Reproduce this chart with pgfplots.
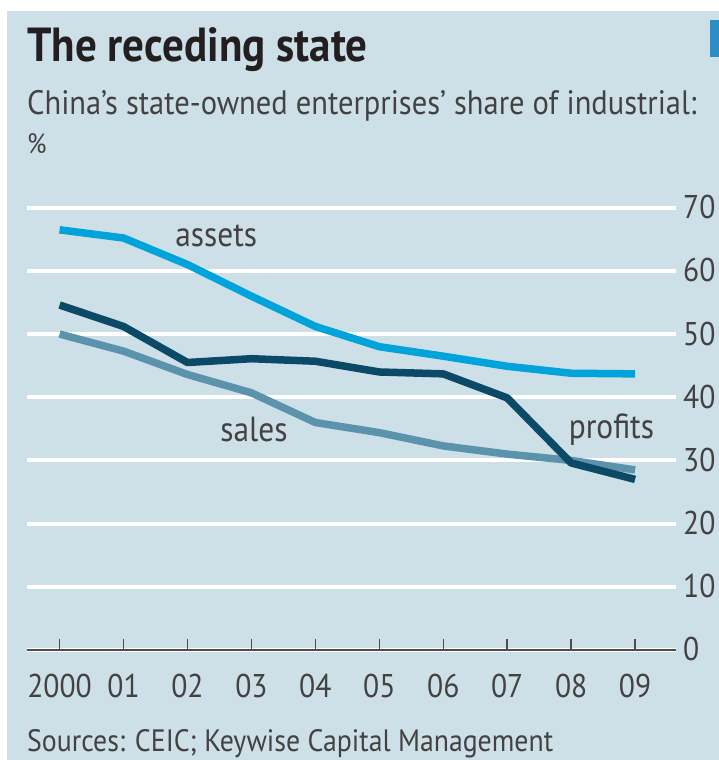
\documentclass[border=0pt]{standalone}
\usepackage{fontspec}
\setmainfont{PT Sans}[FakeStretch=0.9]
\usepackage{pgfplots}
\pgfplotsset{compat=1.18}
\definecolor{bg}{HTML}{CDDFE7}
\definecolor{assets}{HTML}{00A3DA}
\definecolor{profits}{HTML}{0A4A66}
\definecolor{sales}{HTML}{5B93AD}
\definecolor{txt}{HTML}{231F20}
\definecolor{axgray}{HTML}{4D4D4D}
\definecolor{accent}{HTML}{2B8FC5}
\begin{document}
\begin{tikzpicture}[x=1bp,y=1bp]
\useasboundingbox (0,0) rectangle (719,760);
\fill[bg] (7,0) rectangle (719,749);
\fill[accent] (710,703) rectangle (719,740);
\node[anchor=base west,inner sep=0pt,text=txt] at (27,698) {\fontsize{48}{48}\selectfont\bfseries The receding state};
\node[anchor=base west,inner sep=0pt,text=txt!85] at (27,645) {\fontsize{34}{34}\selectfont China’s state-owned enterprises’ share of industrial:};
\node[anchor=base west,inner sep=0pt,text=txt!85] at (27,606) {\fontsize{28}{28}\selectfont \%};
\node[anchor=base west,inner sep=0pt,text=txt!85] at (27,8) {\fontsize{31}{31}\selectfont Sources: CEIC; Keywise Capital Management};
\begin{axis}[
  at={(26.6bp,110bp)}, anchor=south west,
  scale only axis, width=649.4bp, height=442.3bp,
  xmin=-0.516, xmax=9.64, ymin=0, ymax=70,
  clip=false,
  axis line style={draw=none},
  xtick={0,...,9},
  xticklabels={2000,01,02,03,04,05,06,07,08,09},
  xtick pos=bottom,
  tick align=inside,
  major tick length=11bp,
  xtick style={draw=axgray, line width=1.5bp},
  ytick={0,10,...,70},
  ytick style={draw=none},
  yticklabel pos=right,
  ymajorgrids,
  grid style={white, line width=4bp},
  /pgf/number format/assume math mode=true,
  ticklabel style={font=\fontsize{33}{33}\selectfont, text=txt!85},
  xticklabel style={anchor=base, inner sep=0pt, yshift=-47bp},
  yticklabel style={anchor=base west, inner sep=0pt, xshift=7bp, yshift=-11bp},
]
\draw[axgray, line width=2bp] (rel axis cs:0,0) -- (rel axis cs:1,0);
\addplot[sales, line width=7.5bp, line join=round] coordinates {
(0,50.0) (1,47.3) (2,43.6) (3,40.7) (4,36.0) (5,34.4) (6,32.3) (7,31.0) (8,30.0) (9,28.5)};
\addplot[assets, line width=7.5bp, line join=round] coordinates {
(0,66.5) (1,65.2) (2,61.0) (3,56.0) (4,51.2) (5,48.0) (6,46.5) (7,44.9) (8,43.8) (9,43.7)};
\addplot[profits, line width=7.5bp, line join=round] coordinates {
(0,54.6) (1,51.2) (2,45.5) (3,46.1) (4,45.7) (5,44.0) (6,43.7) (7,39.9) (8,29.6) (9,27.0)};
\node[anchor=base, inner sep=0pt, text=txt!85, font=\fontsize{35}{35}\selectfont] at (axis cs:2.45,63.9) {assets};
\node[anchor=base, inner sep=0pt, text=txt!85, font=\fontsize{35}{35}\selectfont] at (axis cs:3.04,33.0) {sales};
\node[anchor=base, inner sep=0pt, text=txt!85, font=\fontsize{35}{35}\selectfont] at (axis cs:8.63,33.5) {profits};
\end{axis}
\end{tikzpicture}
\end{document}
